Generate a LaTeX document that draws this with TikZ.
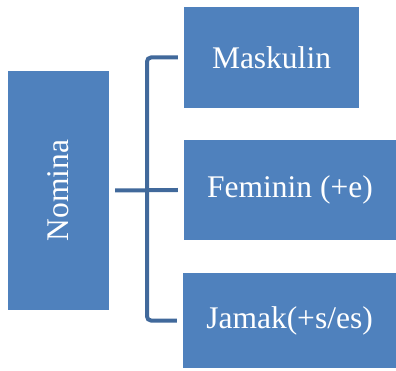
\documentclass[tikz,border=0pt]{standalone}
\usepackage{fontspec}
\setmainfont{Liberation Serif}
\definecolor{boxblue}{HTML}{4F81BD}
\definecolor{linkblue}{HTML}{41699B}
\tikzset{
  box/.style={fill=boxblue, draw=none, text=white, inner sep=0pt,
    font=\fontsize{31.5}{36}\selectfont},
  link/.style={draw=linkblue, line width=4pt, rounded corners=4pt}
}
\begin{document}
\begin{tikzpicture}[x=1pt, y=-1pt]
  \useasboundingbox (0,0) rectangle (396,371);
  % root box with vertical text
  \node[box, minimum width=101pt, minimum height=239pt] (nomina) at (58.5,190.5)
    {\rotatebox{90}{Nomina}};
  % three category boxes
  \node[box, minimum width=175pt, minimum height=101pt] (mask) at (271.5,57.5) {Maskulin};
  \node[box, minimum width=212pt, minimum height=100pt] (fem) at (290,190) {Feminin (+e)};
  \node[box, minimum width=213pt, minimum height=95pt] (jamak) at (289.5,320.5) {Jamak(+s/es)};
  % bracket connector
  \coordinate (top) at ([xshift=-6pt]mask.west);
  \coordinate (bot) at ([xshift=-6pt]jamak.west);
  \coordinate (spine) at (147,190);
  \draw[link] (top) -| (spine) |- (bot);
  \draw[link, rounded corners=0pt] ([xshift=6pt]nomina.east) -- ([xshift=-6pt]fem.west);
\end{tikzpicture}
\end{document}
